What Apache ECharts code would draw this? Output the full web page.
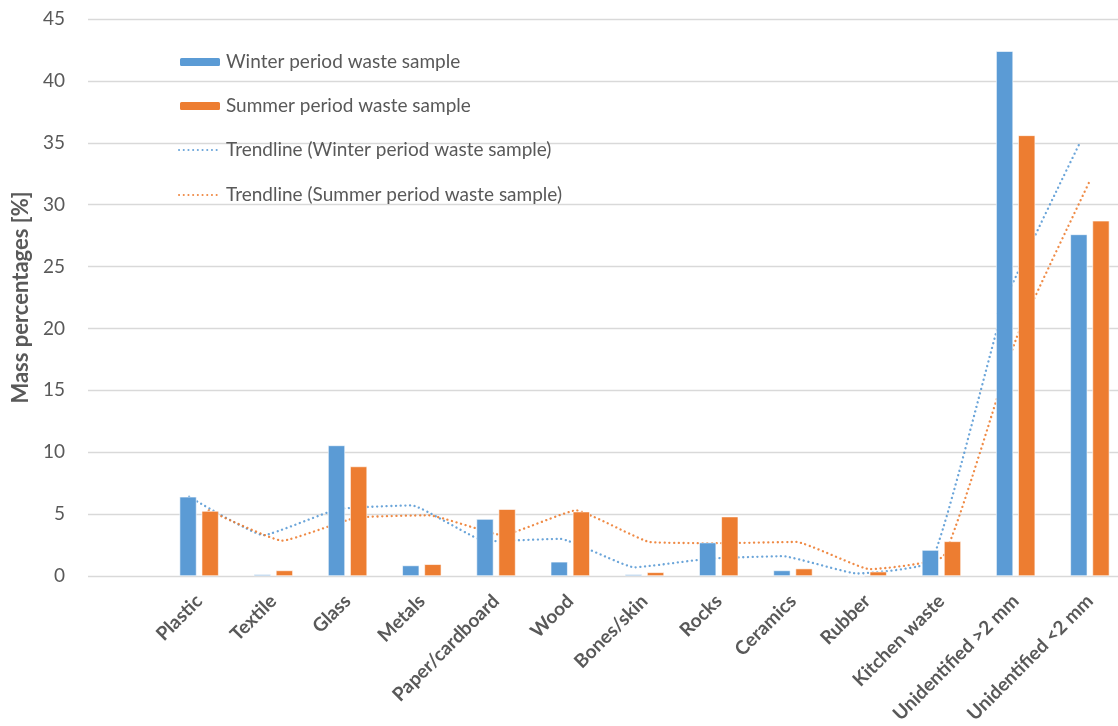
<!DOCTYPE html>
<html><head><meta charset="utf-8">
<script src="https://cdn.jsdelivr.net/npm/echarts@6/dist/echarts.min.js"></script>
<style>html,body{margin:0;padding:0;background:#fff;overflow:hidden;width:1118px;height:726px}#c{width:1127px;height:726px}</style>
</head><body><div id="c"></div>
<script>
const categories = ['Plastic','Textile','Glass','Metals','Paper/cardboard','Wood','Bones/skin','Rocks','Ceramics','Rubber','Kitchen waste','Unidentified >2 mm','Unidentified <2 mm'];
const winter = [6.4, 0.13, 10.55, 0.85, 4.6, 1.15, 0.13, 2.7, 0.45, 0, 2.1, 42.4, 27.6];
const summer = [5.25, 0.45, 8.85, 0.95, 5.4, 5.2, 0.3, 4.8, 0.6, 0.35, 2.8, 35.6, 28.7];
const winterTrend = [6.4, 3.3, 5.4, 5.7, 2.8, 3.0, 0.7, 1.4, 1.6, 0.2, 1.2, 22.3, 35.0];
const summerTrend = [5.3, 2.85, 4.7, 4.9, 3.3, 5.3, 2.75, 2.65, 2.75, 0.55, 1.6, 19.3, 32.0];
const yTicks = {min: 0, max: 45, interval: 5};
const names = ['Winter period waste sample','Summer period waste sample','Trendline (Winter period waste sample)','Trendline (Summer period waste sample)'];

const BLUE = '#5B9BD5', ORANGE = '#ED7D31', GRID = '#d9d9d9', TXT = '#595959';
const FONT = 'Lato, "Liberation Sans", sans-serif';
const chart = echarts.init(document.getElementById('c'));

const hiddenY = (gi) => ({type:'value', gridIndex: gi, min: yTicks.min, max: yTicks.max, interval: yTicks.interval, show: false});
const hiddenCatX = (gi) => ({type:'category', gridIndex: gi, data: categories, show: false});

function legendAt(i, top, isLine) {
  const lg = {
    data: [names[i]], left: 173, top: top, orient: 'vertical',
    itemWidth: 42, itemHeight: 10, itemGap: 0, itemTextGap: 6,
    textStyle: {color: TXT, fontSize: 19, fontFamily: FONT, lineHeight: 22},
    selectedMode: false
  };
  if (isLine) lg.itemStyle = {opacity: 0};
  return lg;
}

const dotted = (c) => ({color: c, width: 2.3, type: [0.1, 4.6], cap: 'round', opacity: 0.9});

chart.setOption({
  animation: false,
  legend: [legendAt(0, 46), legendAt(1, 90), legendAt(2, 134, true), legendAt(3, 179, true)],
  grid: [
    {left: 88, right: 9, top: 19, bottom: 150},
    {left: 162, right: 0, top: 19, bottom: 150},
    {left: 152, right: 10, top: 19, bottom: 150},
    {left: 172, right: -10, top: 19, bottom: 150}
  ],
  xAxis: [
    {type: 'value', gridIndex: 0, show: false, min: 0, max: 1},
    {type: 'category', gridIndex: 1, data: categories,
     axisLine: {show: false}, axisTick: {show: false},
     axisLabel: {rotate: 45, interval: 0, margin: 22, color: TXT, fontSize: 19, fontWeight: 'bold', fontFamily: FONT}},
    hiddenCatX(2), hiddenCatX(3)
  ],
  yAxis: [
    {type: 'value', gridIndex: 0, min: yTicks.min, max: yTicks.max, interval: yTicks.interval,
     axisLine: {show: false}, axisTick: {show: false},
     splitLine: {lineStyle: {color: GRID, width: 1.3}},
     axisLabel: {color: TXT, fontSize: 19, fontFamily: FONT, margin: 23},
     name: 'Mass percentages [%]', nameLocation: 'middle', nameGap: 56,
     nameTextStyle: {color: TXT, fontSize: 22, fontWeight: 'bold', fontFamily: FONT}},
    hiddenY(1), hiddenY(2), hiddenY(3)
  ],
  series: [
    {name: names[0], type: 'bar', xAxisIndex: 1, yAxisIndex: 1, data: winter, z: 4,
     barWidth: 17, barGap: '30%', itemStyle: {color: BLUE, borderColor: '#fff', borderWidth: 0.6}},
    {name: names[1], type: 'bar', xAxisIndex: 1, yAxisIndex: 1, data: summer, z: 4,
     barWidth: 17, barGap: '30%', itemStyle: {color: ORANGE, borderColor: '#fff', borderWidth: 0.6}},
    {name: names[2], type: 'line', xAxisIndex: 2, yAxisIndex: 2, data: winterTrend,
     showSymbol: false, symbol: 'none', smooth: 0.12, z: 2,
     itemStyle: {color: BLUE}, lineStyle: dotted(BLUE)},
    {name: names[3], type: 'line', xAxisIndex: 3, yAxisIndex: 3, data: summerTrend,
     showSymbol: false, symbol: 'none', smooth: 0.12, z: 2,
     itemStyle: {color: ORANGE}, lineStyle: dotted(ORANGE)}
  ]
});
</script></body></html>
